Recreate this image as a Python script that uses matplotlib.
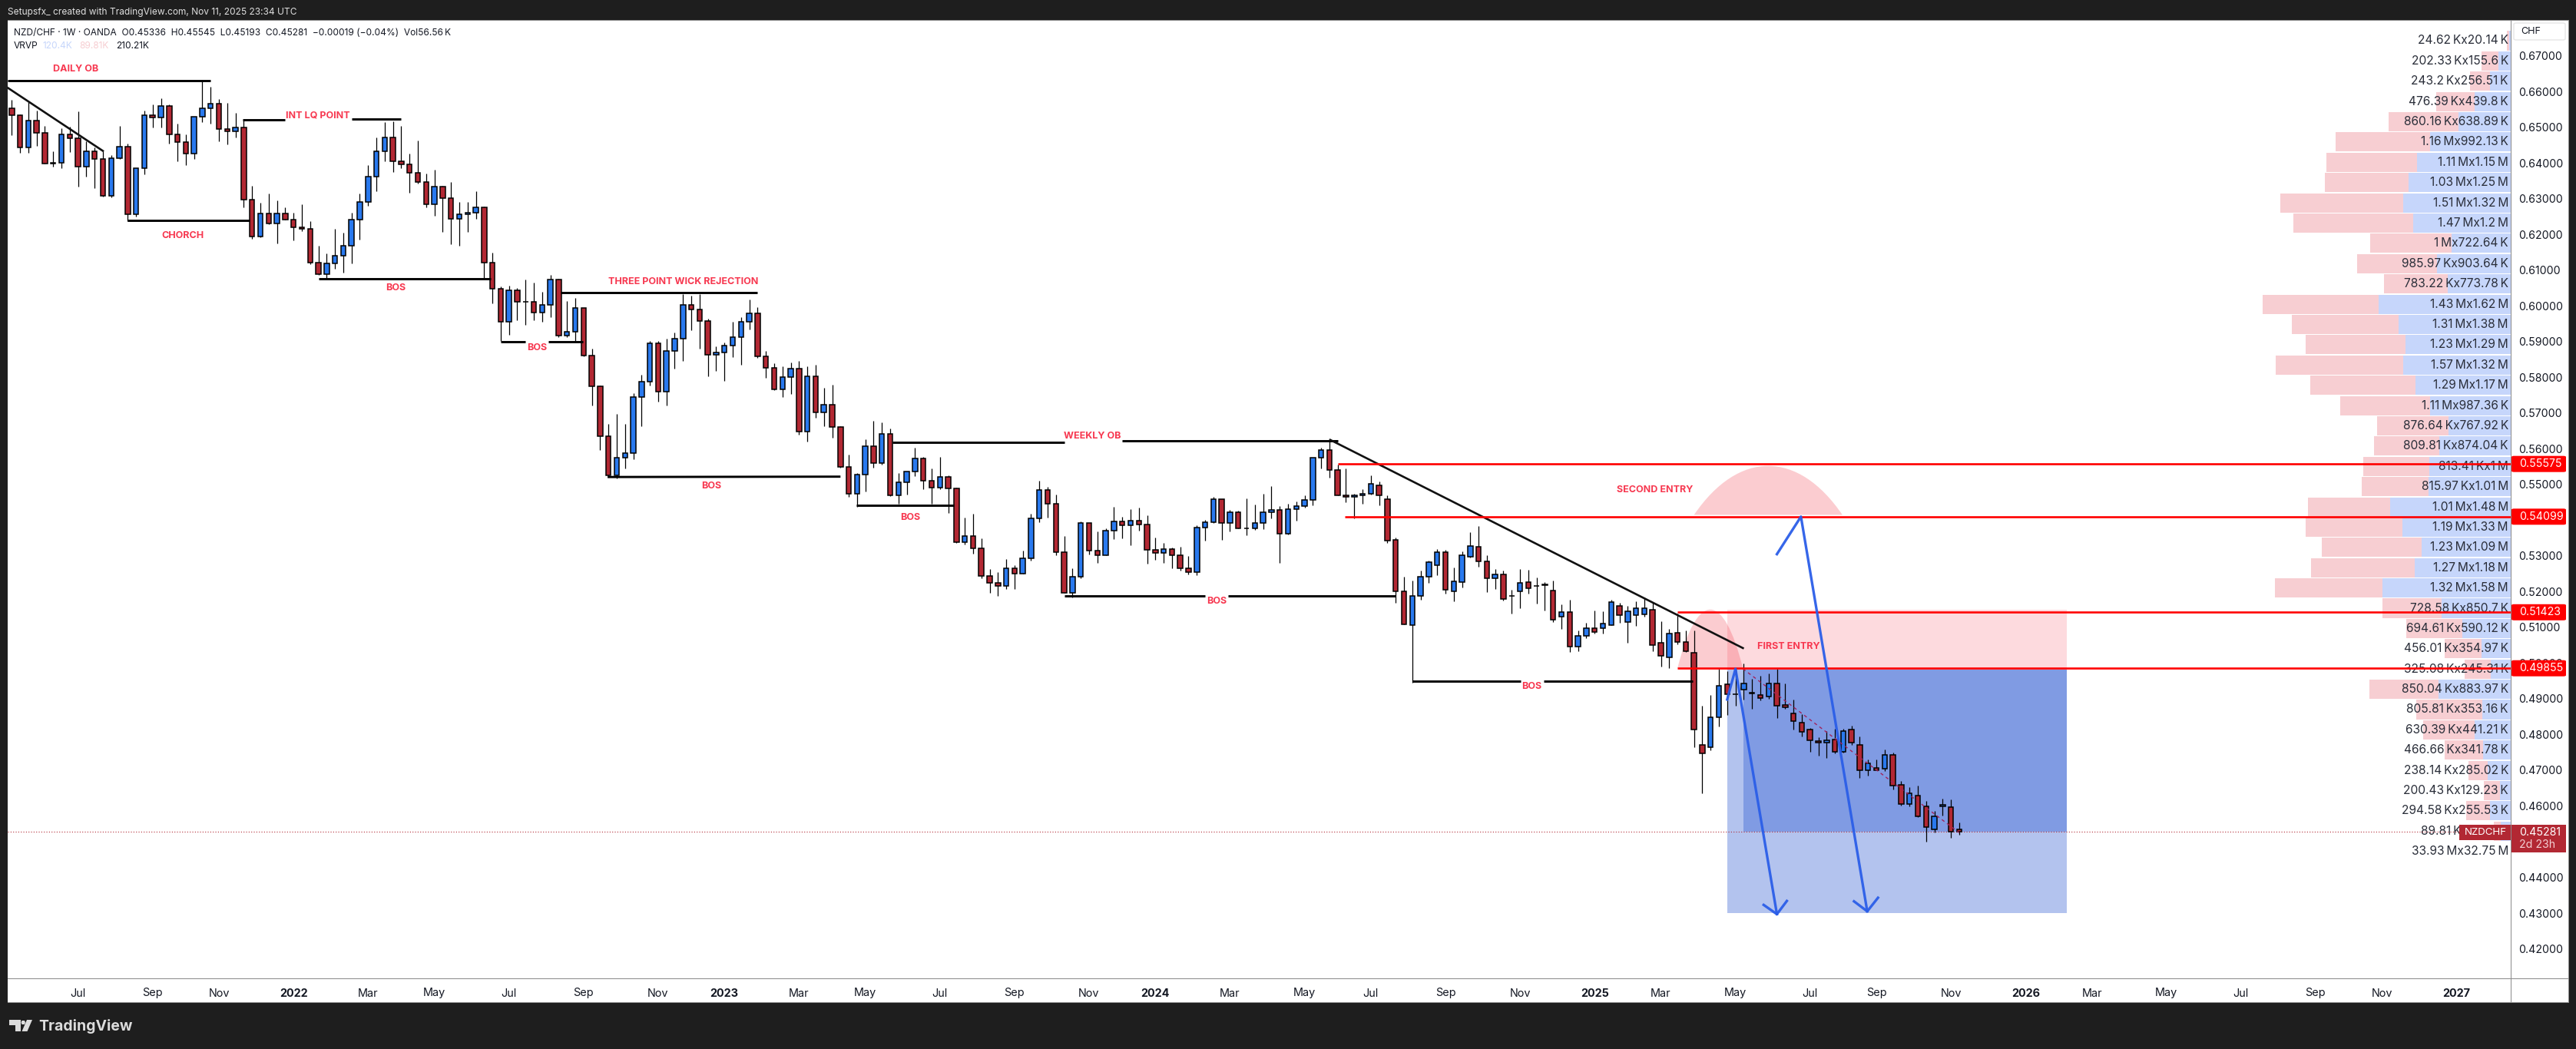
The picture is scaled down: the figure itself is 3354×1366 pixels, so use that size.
#!/usr/bin/python3
'''
NZD/CHF weekly chart with hand drawn markup, VRVP profile on the right.
Prices read off the TradingView screenshot.
'''

import numpy as np
import pandas as pd
import matplotlib
matplotlib.use('Agg')
import matplotlib.pyplot as plt
from matplotlib.patches import Circle, FancyBboxPatch, PathPatch, Polygon, Rectangle
from matplotlib.path import Path

W, H = 3355, 1366

opens = [
    .6553, .6535, .6443, .6520, .6484, .6400, .6400, .6480, .6469, .6391, .6434, .6411,
    .6309, .6413, .6445, .6256, .6385, .6535, .6527, .6559, .6480, .6458, .6426, .6529,
    .6553, .6566, .6495, .6488, .6499, .6297, .6194, .6258, .6230, .6258, .6241, .6221,
    .6215, .6122, .6090, .6118, .6140, .6168, .6241, .6292, .6361, .6434, .6471, .6406,
    .6396, .6372, .6346, .6284, .6333, .6301, .6243, .6256, .6260, .6277, .6122, .6049,
    .5955, .6043, .6011, .6011, .5982, .6002, .6073, .5918, .5927, .5994, .5862, .5776,
    .5635, .5525, .5576, .5587, .5746, .5789, .5895, .5759, .5873, .5909, .6004, .5991,
    .5957, .5864, .5870, .5888, .5912, .5955, .5979, .5858, .5826, .5767, .5800, .5825,
    .5649, .5804, .5703, .5723, .5662, .5549, .5475, .5527, .5607, .5559, .5641, .5470,
    .5506, .5536, .5574, .5510, .5492, .5521, .5490, .5339, .5355, .5321, .5243, .5224,
    .5217, .5265, .5251, .5293, .5405, .5484, .5447, .5310, .5197, .5241, .5392, .5314,
    .5303, .5370, .5396, .5385, .5398, .5387, .5316, .5308, .5319, .5303, .5265, .5254,
    .5379, .5394, .5460, .5392, .5422, .5377, .5378, .5392, .5422, .5428, .5362, .5430,
    .5439, .5456, .5576, .5596, .5541, .5470, .5465, .5469, .5473, .5497, .5460, .5344,
    .5202, .5106, .5189, .5241, .5273, .5310, .5202, .5226, .5298, .5325, .5284, .5237,
    .5248, .5187, .5202, .5226, .5215, .5219, .5204, .5129, .5142, .5047, .5077, .5098,
    .5097, .5107, .5161, .5116, .5134, .5136, .5150, .5056, .5015, .5084, .5060, .5029,
    .4772, .4764, .4848, .4940, .4912, .4925, .4916, .4911, .4907, .4944, .4882, .4860,
    .4833, .4813, .4782, .4777, .4785, .4752, .4815, .4770, .4701, .4707, .4704, .4742,
    .4660, .4606, .4630, .4598, .4535, .4600, .4596, .45336,
]
highs = [
    .6577, .6536, .6570, .6548, .6505, .6432, .6498, .6502, .6544, .6461, .6444, .6434,
    .6423, .6504, .6454, .6385, .6547, .6564, .6581, .6564, .6510, .6480, .6529, .6630,
    .6614, .6579, .6568, .6540, .6520, .6336, .6289, .6315, .6296, .6277, .6262, .6285,
    .6237, .6169, .6146, .6216, .6206, .6262, .6315, .6394, .6472, .6514, .6516, .6505,
    .6427, .6464, .6371, .6381, .6336, .6347, .6290, .6290, .6321, .6279, .6149, .6055,
    .6057, .6050, .6074, .6065, .6040, .6086, .6077, .6014, .6022, .5994, .5880, .5778,
    .5670, .5697, .5670, .5755, .5807, .5902, .5902, .5908, .5926, .6032, .6029, .6032,
    .5964, .5887, .5898, .5956, .5968, .6019, .5997, .5873, .5839, .5832, .5842, .5846,
    .5832, .5835, .5771, .5779, .5664, .5584, .5532, .5626, .5678, .5674, .5656, .5532,
    .5536, .5603, .5577, .5545, .5577, .5525, .5491, .5407, .5418, .5349, .5263, .5255,
    .5291, .5273, .5314, .5418, .5511, .5493, .5472, .5355, .5265, .5397, .5392, .5368,
    .5377, .5438, .5409, .5432, .5435, .5414, .5352, .5336, .5323, .5325, .5299, .5386,
    .5400, .5465, .5460, .5428, .5426, .5461, .5444, .5475, .5495, .5439, .5447, .5452,
    .5470, .5576, .5602, .5626, .5556, .5546, .5475, .5486, .5525, .5508, .5469, .5351,
    .5242, .5230, .5260, .5287, .5320, .5317, .5267, .5313, .5366, .5384, .5302, .5263,
    .5258, .5205, .5263, .5262, .5240, .5226, .5232, .5165, .5178, .5091, .5113, .5147,
    .5145, .5177, .5168, .5161, .5174, .5183, .5168, .5117, .5095, .5139, .5091, .5091,
    .4880, .4911, .4984, .4977, .4985, .4999, .4955, .4964, .4970, .4984, .4943, .4898,
    .4858, .4819, .4792, .4810, .4817, .4817, .4825, .4794, .4731, .4731, .4757, .4750,
    .4670, .4652, .4656, .4614, .4586, .4620, .4619, .45545,
]
lows = [
    .6479, .6429, .6429, .6447, .6398, .6389, .6386, .6431, .6335, .6362, .6330, .6307,
    .6303, .6411, .6237, .6251, .6369, .6500, .6500, .6454, .6405, .6395, .6412, .6515,
    .6510, .6460, .6452, .6472, .6277, .6188, .6193, .6229, .6176, .6241, .6184, .6210,
    .6117, .6086, .6077, .6105, .6094, .6120, .6186, .6281, .6321, .6404, .6376, .6386,
    .6317, .6342, .6275, .6252, .6208, .6173, .6169, .6208, .6243, .6079, .6007, .5901,
    .5919, .5961, .5946, .5961, .5956, .5968, .5913, .5913, .5901, .5858, .5721, .5597,
    .5523, .5516, .5546, .5571, .5664, .5777, .5732, .5721, .5825, .5846, .5932, .5880,
    .5803, .5818, .5790, .5857, .5835, .5934, .5855, .5799, .5764, .5746, .5754, .5640,
    .5620, .5687, .5663, .5631, .5548, .5466, .5438, .5480, .5548, .5556, .5468, .5446,
    .5472, .5523, .5488, .5445, .5488, .5421, .5337, .5333, .5307, .5238, .5197, .5188,
    .5208, .5208, .5250, .5286, .5394, .5407, .5303, .5197, .5183, .5237, .5304, .5281,
    .5303, .5347, .5349, .5330, .5371, .5278, .5289, .5280, .5266, .5260, .5249, .5247,
    .5343, .5393, .5345, .5369, .5377, .5357, .5372, .5375, .5405, .5281, .5359, .5398,
    .5436, .5441, .5545, .5520, .5470, .5450, .5405, .5445, .5472, .5442, .5337, .5169,
    .5108, .4946, .5177, .5224, .5247, .5194, .5174, .5212, .5295, .5270, .5199, .5208,
    .5176, .5139, .5154, .5195, .5167, .5148, .5115, .5096, .5031, .5034, .5069, .5082,
    .5082, .5106, .5112, .5057, .5105, .5131, .5034, .4990, .4985, .5052, .5031, .4764,
    .4636, .4755, .4823, .4854, .4880, .4898, .4873, .4896, .4900, .4847, .4873, .4813,
    .4795, .4751, .4740, .4735, .4747, .4749, .4770, .4678, .4685, .4700, .4698, .4647,
    .4601, .4598, .4569, .4501, .4526, .4573, .4510, .45193,
]
closes = [
    .6535, .6443, .6520, .6484, .6398, .6399, .6480, .6469, .6391, .6434, .6411, .6309,
    .6413, .6445, .6256, .6385, .6535, .6527, .6559, .6480, .6458, .6426, .6529, .6553,
    .6566, .6495, .6488, .6499, .6297, .6194, .6258, .6230, .6258, .6241, .6221, .6215,
    .6122, .6090, .6118, .6140, .6168, .6241, .6292, .6361, .6434, .6471, .6406, .6396,
    .6372, .6346, .6284, .6333, .6301, .6243, .6256, .6260, .6277, .6122, .6049, .5955,
    .6043, .6011, .6011, .5982, .6002, .6073, .5918, .5927, .5994, .5862, .5776, .5635,
    .5525, .5576, .5587, .5746, .5789, .5895, .5759, .5873, .5909, .6004, .5991, .5957,
    .5864, .5870, .5888, .5912, .5955, .5979, .5858, .5826, .5767, .5800, .5825, .5649,
    .5804, .5703, .5723, .5662, .5549, .5475, .5527, .5607, .5559, .5641, .5470, .5506,
    .5536, .5574, .5510, .5492, .5521, .5490, .5339, .5355, .5321, .5243, .5224, .5217,
    .5265, .5251, .5293, .5405, .5484, .5447, .5310, .5197, .5241, .5392, .5314, .5303,
    .5370, .5396, .5385, .5398, .5387, .5316, .5308, .5319, .5303, .5265, .5254, .5379,
    .5394, .5460, .5392, .5422, .5377, .5378, .5392, .5422, .5428, .5362, .5430, .5439,
    .5456, .5576, .5596, .5541, .5470, .5465, .5469, .5473, .5503, .5470, .5342, .5202,
    .5108, .5187, .5241, .5282, .5310, .5205, .5228, .5301, .5327, .5284, .5237, .5248,
    .5179, .5187, .5224, .5209, .5216, .5220, .5121, .5142, .5047, .5077, .5097, .5088,
    .5110, .5170, .5134, .5146, .5153, .5153, .5051, .5020, .5082, .5060, .5033, .4813,
    .4747, .4848, .4936, .4912, .4912, .4944, .4916, .4903, .4944, .4881, .4877, .4838,
    .4807, .4783, .4777, .4783, .4752, .4809, .4777, .4701, .4719, .4701, .4742, .4656,
    .4606, .4635, .4570, .4540, .4572, .4604, .4527, .45281,
]

price_ticks = [.42, .43, .44, .46, .47, .48, .49, .50, .51, .52, .53, .54, .55,
               .56, .57, .58, .59, .60, .61, .62, .63, .64, .65, .66, .67]

time_tick_dates = ['2021-07-05', '2021-09-06', '2021-11-01', '2022-01-03', '2022-03-07',
                   '2022-05-02', '2022-07-04', '2022-09-05', '2022-11-07', '2023-01-02',
                   '2023-03-06', '2023-05-01', '2023-07-03', '2023-09-04', '2023-11-06',
                   '2024-01-01', '2024-03-04', '2024-05-06', '2024-07-01', '2024-09-02',
                   '2024-11-04', '2025-01-06', '2025-03-03', '2025-05-05', '2025-07-07',
                   '2025-09-01', '2025-11-03', '2026-01-05', '2026-03-02', '2026-05-04',
                   '2026-07-06', '2026-09-07', '2026-11-02', '2027-01-04']
time_tick_labels = ['Jul', 'Sep', 'Nov', '2022', 'Mar', 'May', 'Jul', 'Sep', 'Nov', '2023',
                    'Mar', 'May', 'Jul', 'Sep', 'Nov', '2024', 'Mar', 'May', 'Jul', 'Sep',
                    'Nov', '2025', 'Mar', 'May', 'Jul', 'Sep', 'Nov', '2026', 'Mar', 'May',
                    'Jul', 'Sep', 'Nov', '2027']

# VRVP rows, top row first, volumes in thousands
profile_sell = [24.62, 202.33, 243.2, 476.39, 860.16, 1160, 1110, 1030, 1510, 1470, 1000,
                985.97, 783.22, 1430, 1310, 1230, 1570, 1290, 1110, 876.64, 809.81, 813.41,
                815.97, 1010, 1190, 1230, 1270, 1320, 728.58, 694.61, 456.01, 325.08,
                850.04, 805.81, 630.39, 466.66, 238.14, 200.43, 294.58, 89.81]
profile_buy = [20.14, 155.6, 256.51, 439.8, 638.89, 992.13, 1150, 1250, 1320, 1200, 722.64,
               903.64, 773.78, 1620, 1380, 1290, 1320, 1170, 987.36, 767.92, 874.04, 1000,
               1010, 1480, 1330, 1090, 1180, 1580, 850.7, 590.12, 354.97, 245.31,
               883.97, 353.16, 441.21, 341.78, 285.02, 129.23, 255.53, 120.4]
profile_labels = ['24.62Kx20.14K', '202.33Kx155.6K', '243.2Kx256.51K', '476.39Kx439.8K',
                  '860.16Kx638.89K', '1.16Mx992.13K', '1.11Mx1.15M', '1.03Mx1.25M',
                  '1.51Mx1.32M', '1.47Mx1.2M', '1Mx722.64K', '985.97Kx903.64K',
                  '783.22Kx773.78K', '1.43Mx1.62M', '1.31Mx1.38M', '1.23Mx1.29M',
                  '1.57Mx1.32M', '1.29Mx1.17M', '1.11Mx987.36K', '876.64Kx767.92K',
                  '809.81Kx874.04K', '813.41Kx1M', '815.97Kx1.01M', '1.01Mx1.48M',
                  '1.19Mx1.33M', '1.23Mx1.09M', '1.27Mx1.18M', '1.32Mx1.58M',
                  '728.58Kx850.7K', '694.61Kx590.12K', '456.01Kx354.97K', '325.08Kx245.31K',
                  '850.04Kx883.97K', '805.81Kx353.16K', '630.39Kx441.21K', '466.66Kx341.78K',
                  '238.14Kx285.02K', '200.43Kx129.23K', '294.58Kx255.53K', '89.81Kx120.4K']
profile_high = .6771
profile_low = .4501
profile_total = '33.93Mx32.75M'

# (label, bar, price)
markup_labels = [('DAILY OB', 7.75, .6662), ('INT LQ POINT', 36.9, .6533), ('CHORCH', 20.6, .6197),
                 ('BOS', 46.3, .6051), ('THREE POINT WICK REJECTION', 81, .6068), ('BOS', 63.4, .5883),
                 ('BOS', 84.4, .5495), ('WEEKLY OB', 130.4, .5635), ('BOS', 108.4, .5408),
                 ('BOS', 145.4, .5172), ('BOS', 183.4, .4935), ('SECOND ENTRY', 198.3, .5485),
                 ('FIRST ENTRY', 214.4, .5046)]

# (bar from, bar to, price from, price to)
black_lines = [(-0.5, 24, .6631, .6631), (27.9, 33, .6521, .6521), (41, 47, .6524, .6524),
               (14, 28.7, .6240, .6240), (37, 57.8, .6077, .6077), (66.2, 90, .6038, .6038),
               (59, 62, .5900, .5900), (64.8, 68.9, .5900, .5900), (71.9, 100, .5521, .5522),
               (106.3, 127, .5619, .5619), (134, 160, .5623, .5623), (101.9, 113.7, .5442, .5442),
               (127, 144, .5187, .5187), (146.8, 167, .5187, .5187), (169, 182.1, .4949, .4949),
               (184.9, 202.8, .4950, .4950)]
trend_lines = [(-0.5, 11, .6611, .6434), (159.1, 208.9, .5625, .5042)]

# (first bar, price)
red_levels = [(160, .55575), (160.9, .54099), (201, .51423), (201, .49855)]
last_price = .45281

# position tool
box_bars = (207, 248)
box_dark_bar = 209
box_top = .5150
box_entry = .4981
box_bottom = .4301

# hand drawn blue arrows, bars and prices
arrow_a_bars = [207, 208, 213]
arrow_a_prices = [.4898, .4984, .4297]
head_a_bars = [211.4, 213, 214.2]
head_a_prices = [.4323, .4297, .4334]
arrow_b_bars = [213, 215.9, 223.9]
arrow_b_prices = [.5305, .5410, .4305]
head_b_bars = [222.3, 223.9, 225.2]
head_b_prices = [.4333, .4305, .4343]

DARK = '#1e1e1e'
FRAME = '#8b8b8b'
UP = '#2979ee'
DOWN = '#b22833'
MARK = '#f7374f'
ARROW = '#2b5ee8'
FONT = 'Inter'

# pixel mapping of the screenshot
FIRST_BAR_X = 15.3
BAR_STEP = 10.79
PANE_LEFT, PANE_RIGHT = 10, 3269
AXIS_RIGHT = 3345
PANE_TOP, PANE_BOTTOM, TIME_BOTTOM = 27, 1274, 1305
PRICE_AT_TOP = .67985
PRICE_AT_BOTTOM = .41173


def fx(px):
    return px / W


def fy(py):
    return 1 - py / H


def bar_x(px):
    return (px - FIRST_BAR_X) / BAR_STEP


def arch(ax, bar0, bar1, base, peak):
    w = bar1 - bar0
    lift = base + (peak - base) * 4 / 3
    verts = [(bar0, base), (bar0 + .3 * w, lift), (bar1 - .3 * w, lift), (bar1, base), (bar0, base)]
    codes = [Path.MOVETO, Path.CURVE4, Path.CURVE4, Path.CURVE4, Path.CLOSEPOLY]
    ax.add_patch(PathPatch(Path(verts, codes), fc='#f23645', ec='none', alpha=.25, zorder=1.5))


def spaced(label):
    # the screenshot shows a small gap in front of the unit
    return label.replace('K', '\u2009K').replace('M', '\u2009M')


fig = plt.figure(figsize=(W / 100, H / 100), dpi=100, facecolor=DARK)
plt.rcParams['font.family'] = [FONT, 'DejaVu Sans']

pos = [fx(PANE_LEFT), fy(PANE_BOTTOM), fx(PANE_RIGHT - PANE_LEFT), (PANE_BOTTOM - PANE_TOP) / H]

# volume profile sits under the candles
vol = fig.add_axes(pos, zorder=1, facecolor='white')
vol.set_xlim((PANE_RIGHT - PANE_LEFT) / .106, 0)
vol.set_ylim(PRICE_AT_BOTTOM, PRICE_AT_TOP)
vol.axis('off')
vol.add_patch(Rectangle((0, 0), 1, 1, transform=vol.transAxes, fc='white', ec='none', zorder=0))
step = (profile_high - profile_low) / len(profile_sell)
row_top = profile_high - step * np.arange(len(profile_sell))
row_mid = row_top - step / 2
vol.barh(row_mid, profile_buy, height=step * .95, color='#c6d6fb', zorder=1)
vol.barh(row_mid, profile_sell, left=profile_buy, height=step * .95, color='#f7ced2', zorder=1)

ax = fig.add_axes(pos, zorder=2)
ax.patch.set_alpha(0)
ax.set_xlim(bar_x(PANE_LEFT), bar_x(PANE_RIGHT))
ax.set_ylim(PRICE_AT_BOTTOM, PRICE_AT_TOP)

for y, label in zip(row_mid, profile_labels):
    ax.text(bar_x(3266), y, spaced(label), ha='right', va='center', fontsize=11.2, color='#2a2e39', zorder=2)
ax.text(bar_x(3266), row_mid[-1] - step, spaced(profile_total), ha='right', va='center',
        fontsize=11.2, color='#2a2e39', zorder=2)

# position tool
ax.add_patch(Rectangle((box_bars[0], box_entry), box_bars[1] - box_bars[0], box_top - box_entry,
                       fc='#fddade', ec='none', zorder=1))
ax.add_patch(Rectangle((box_bars[0], box_bottom), box_bars[1] - box_bars[0], box_entry - box_bottom,
                       fc='#b3c3ee', ec='none', zorder=1))
ax.add_patch(Rectangle((box_dark_bar, last_price), box_bars[1] - box_dark_bar, box_entry - last_price,
                       fc='#809be3', ec='none', zorder=1.1))

arch(ax, 201, 208.9, .4985, .5150)
arch(ax, 203, 220.9, .5415, .5552)

# candles
x = np.arange(len(opens))
o, h, l, c = map(np.array, (opens, highs, lows, closes))
ax.vlines(x, l, h, color='black', lw=.9, zorder=3)
colors = np.where(c >= o, UP, DOWN)
ax.bar(x, np.maximum(np.abs(c - o), .00008), bottom=np.minimum(o, c), width=.6, color=colors,
       edgecolor='black', linewidth=1.1, zorder=3.2)

# markup
for x0, x1, y0, y1 in black_lines:
    ax.plot([x0, x1], [y0, y1], color='black', lw=2.1, solid_capstyle='butt', zorder=4)
for x0, x1, y0, y1 in trend_lines:
    ax.plot([x0, x1], [y0, y1], color='#111111', lw=1.9, zorder=4)
for x0, price in red_levels:
    ax.plot([x0, bar_x(PANE_RIGHT)], [price, price], color='#ff0000', lw=1.9, solid_capstyle='butt', zorder=5)
ax.plot([bar_x(PANE_LEFT), bar_x(PANE_RIGHT)], [last_price, last_price], color=DOWN, lw=.8,
        ls=(0, (1, 2)), zorder=2.5)
ax.plot([208.9, 235], [.4984, .4525], color='#a0245e', lw=1, ls=(0, (3, 3)), zorder=3.5)
for bars, prices in ((arrow_a_bars, arrow_a_prices), (head_a_bars, head_a_prices),
                     (arrow_b_bars, arrow_b_prices), (head_b_bars, head_b_prices)):
    ax.plot(bars, prices, color=ARROW, lw=2.4, alpha=.95, solid_joinstyle='round', zorder=6)
for label, bar, price in markup_labels:
    ax.text(bar, price, label, ha='center', va='center', fontsize=9, fontweight='bold',
            color=MARK, zorder=7)

ax.set_xticks([(pd.Timestamp(d) - pd.Timestamp('2021-05-10')).days / 7 for d in time_tick_dates])
ax.set_xticklabels(time_tick_labels, fontsize=10.4, color='#131722')
for t in ax.get_xticklabels():
    if t.get_text().isdigit():
        t.set_fontweight('bold')
ax.set_yticks(price_ticks)
ax.set_yticklabels(['%.5f' % p for p in price_ticks], fontsize=10.2, color='#131722', ha='left')
ax.yaxis.tick_right()
ax.tick_params(axis='both', length=0)
ax.tick_params(axis='y', pad=7.5)
ax.tick_params(axis='x', pad=9)
for s in ax.spines.values():
    s.set_visible(False)


# frames drawn on the figure, time and price panes stay white
def frame(px0, py0, px1, py1, fc='white', z=0):
    fig.add_artist(Rectangle((fx(px0), fy(py1)), fx(px1 - px0), (py1 - py0) / H, fc=fc, ec='none',
                             transform=fig.transFigure, zorder=z))


frame(PANE_LEFT, PANE_TOP, AXIS_RIGHT, TIME_BOTTOM, z=-1)
for px0, py0, px1, py1 in [(PANE_LEFT, PANE_TOP - 1, AXIS_RIGHT, PANE_TOP), (PANE_LEFT, PANE_BOTTOM, AXIS_RIGHT, PANE_BOTTOM + 1),
                           (PANE_LEFT, TIME_BOTTOM, AXIS_RIGHT, TIME_BOTTOM + 1), (PANE_RIGHT, PANE_TOP, PANE_RIGHT + 1, TIME_BOTTOM),
                           (AXIS_RIGHT - 1, PANE_TOP, AXIS_RIGHT, TIME_BOTTOM)]:
    frame(px0, py0, px1, py1, fc=FRAME, z=9)


# price tags
def tag(price, text, fc=('#ff0000')):
    py = PANE_TOP + (PRICE_AT_TOP - price) / (PRICE_AT_TOP - PRICE_AT_BOTTOM) * (PANE_BOTTOM - PANE_TOP)
    fig.add_artist(FancyBboxPatch((fx(PANE_RIGHT + 1), fy(py + 10.5)), fx(AXIS_RIGHT - PANE_RIGHT - 5), 21 / H,
                                  boxstyle='round,pad=0,rounding_size=0.001', fc=fc, ec='none',
                                  transform=fig.transFigure, zorder=10))
    fig.text(fx(3280), fy(py), text, color='white', fontsize=10.2, ha='left', va='center', zorder=11)


for _, price in red_levels:
    tag(price, '%.5f' % price)

# last price tags
fig.add_artist(Rectangle((fx(PANE_RIGHT + 1), fy(1110)), fx(AXIS_RIGHT - PANE_RIGHT - 5), 36 / H, fc=DOWN, ec='none',
                         transform=fig.transFigure, zorder=10))
fig.text(fx(3280), fy(1084), '0.45281', color='white', fontsize=10.2, va='center', zorder=11)
fig.text(fx(3280), fy(1100), '2d 23h', color='#f3d0d3', fontsize=10.2, va='center', zorder=11)
fig.add_artist(Rectangle((fx(3202), fy(1094)), fx(PANE_RIGHT - 3202), 20 / H, fc=DOWN, ec='none',
                         transform=fig.transFigure, zorder=10))
fig.text(fx(3236), fy(1084), 'NZDCHF', color='white', fontsize=9.6, ha='center', va='center', zorder=11)

# CHF unit box
fig.add_artist(FancyBboxPatch((fx(3273), fy(52)), fx(67), 22 / H, boxstyle='round,pad=0,rounding_size=0.001',
                              fc='white', ec='#e6e6e6', lw=1, transform=fig.transFigure, zorder=10))
fig.text(fx(3282), fy(40.5), 'CHF', color='#131722', fontsize=9, va='center', zorder=11)

# header, legend, footer
fig.text(fx(10), fy(15.5), 'Setupsfx_ created with TradingView.com, Nov 11, 2025 23:34 UTC', color='#e0e0e0',
         fontsize=8.6, va='center')
fig.text(fx(18), fy(43), 'NZD/CHF \u00b7 1W \u00b7 OANDA  O0.45336  H0.45545  L0.45193  C0.45281  \u22120.00019 (\u22120.04%)  Vol56.56\u2009K',
         color='#131722', fontsize=8.6, va='center', zorder=12)
for px, text, col in [(18, 'VRVP', '#131722'), (56, '120.4K', '#c6d6fb'), (103, '89.81K', '#f7ced2'), (151, '210.21K', '#131722')]:
    fig.text(fx(px), fy(60), text, color=col, fontsize=8.6, va='center', zorder=12)

# footer logo
LOGO = '#dcdcdc'
fig.add_artist(Polygon([(fx(px), fy(py)) for px, py in [(12, 1328), (27, 1328), (27, 1343), (20, 1343), (20, 1335), (12, 1335)]],
                       closed=True, fc=LOGO, ec='none', transform=fig.transFigure))
fig.add_artist(Polygon([(fx(px), fy(py)) for px, py in [(35, 1328), (42, 1328), (35.5, 1343), (28.5, 1343)]],
                       closed=True, fc=LOGO, ec='none', transform=fig.transFigure))
fig.add_artist(Polygon([(fx(px), fy(py)) for px, py in [(28.5, 1329), (32, 1329), (33, 1331.5), (32, 1334), (28.5, 1334), (27.5, 1331.5)]],
                       closed=True, fc=LOGO, ec='none', transform=fig.transFigure))
fig.text(fx(50), fy(1337), 'TradingView', color=LOGO, fontsize=14, fontweight='bold', va='center')

fig.savefig('out.png', dpi=100, facecolor=DARK)
